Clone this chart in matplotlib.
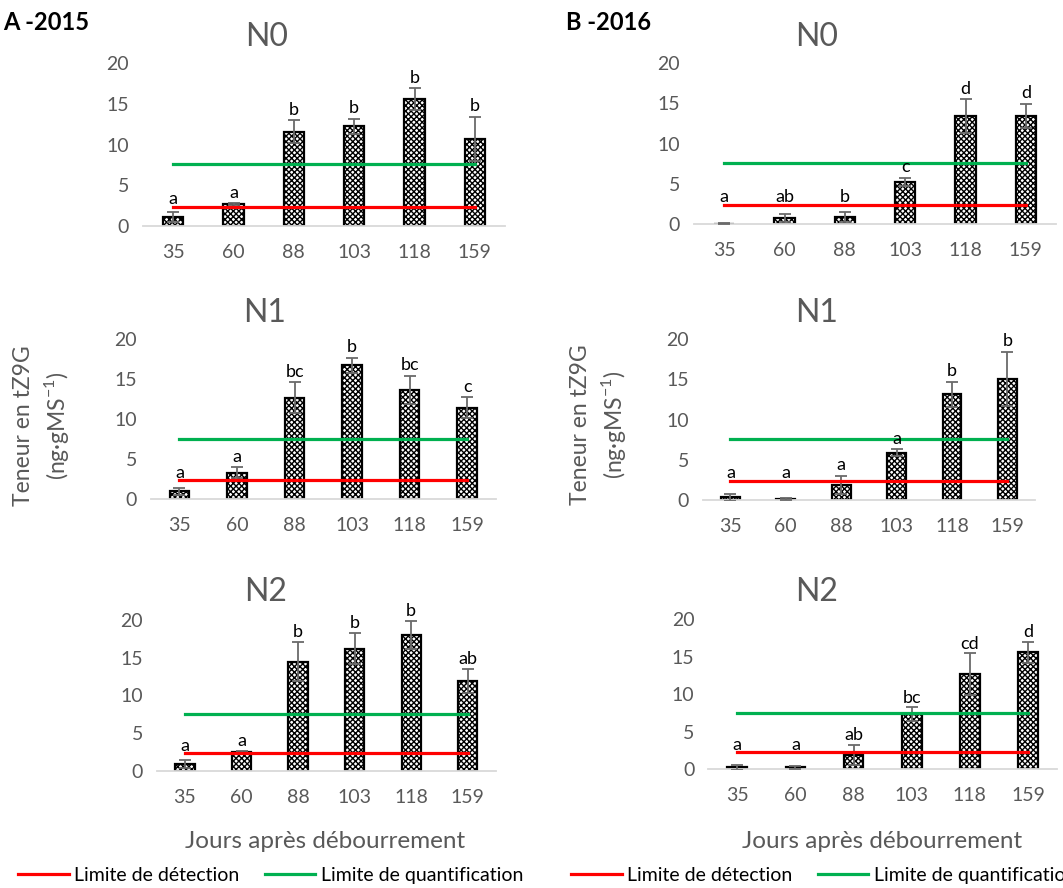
import numpy as np
import matplotlib.pyplot as plt

plt.rcParams['font.family'] = ['Lato', 'DejaVu Sans']
plt.rcParams['mathtext.fontset'] = 'custom'
plt.rcParams['mathtext.rm'] = 'Lato'
plt.rcParams['hatch.linewidth'] = 1.0

# days after budburst
days = ['35', '60', '88', '103', '118', '159']
lim_detection = 2.33
lim_quantification = 7.57

# 2015
mean_a_n0 = [1.07, 2.66, 11.6, 12.27, 15.55, 10.7]
err_a_n0 = [0.57, 0.1, 1.4, 0.93, 1.35, 2.7]
let_a_n0 = ['a', 'a', 'b', 'b', 'b', 'b']
mean_a_n1 = [0.96, 3.3, 12.7, 16.75, 13.66, 11.44]
err_a_n1 = [0.46, 0.7, 1.9, 0.95, 1.8, 1.3]
let_a_n1 = ['a', 'a', 'bc', 'b', 'bc', 'c']
mean_a_n2 = [0.89, 2.48, 14.47, 16.2, 18.0, 11.95]
err_a_n2 = [0.53, 0.12, 2.63, 2.1, 1.9, 1.6]
let_a_n2 = ['a', 'a', 'b', 'b', 'b', 'ab']

# 2016
mean_b_n0 = [0.05, 0.7, 0.9, 5.27, 13.45, 13.45]
err_b_n0 = [0.05, 0.5, 0.6, 0.5, 2.1, 1.53]
let_b_n0 = ['a', 'ab', 'b', 'c', 'd', 'd']
mean_b_n1 = [0.33, 0.12, 1.87, 5.9, 13.16, 15.06]
err_b_n1 = [0.47, 0.1, 1.16, 0.45, 1.54, 3.4]
let_b_n1 = ['a', 'a', 'a', 'a', 'b', 'b']
mean_b_n2 = [0.27, 0.25, 1.9, 7.33, 12.7, 15.6]
err_b_n2 = [0.3, 0.25, 1.34, 0.94, 2.76, 1.38]
let_b_n2 = ['a', 'a', 'ab', 'bc', 'cd', 'd']

W, H = 1063, 888
fig = plt.figure(figsize=(W / 100, H / 100), dpi=100)
gray = '#595959'


def px_axes(left, right, top, bottom):
    return fig.add_axes([left / W, 1 - bottom / H, (right - left) / W, (bottom - top) / H])


def draw_panel(ax, means, errs, letters):
    x = np.arange(len(days))
    ax.bar(x, means, width=0.34, color='white', edgecolor='black', hatch='xxxxxx',
           linewidth=1.6, zorder=2)
    ax.errorbar(x, means, yerr=errs, fmt='none', ecolor='#6a6a6a', elinewidth=1.3,
                capsize=4, capthick=1.3, zorder=3)
    red, = ax.plot([x[0], x[-1]], [lim_detection] * 2, color='#ff0000', lw=2.3, zorder=4)
    green, = ax.plot([x[0], x[-1]], [lim_quantification] * 2, color='#00b050', lw=2.3, zorder=4)
    for xi, m, e, lab in zip(x, means, errs, letters):
        ax.text(xi, max(m + e, 2.0) + 1.3, lab, ha='center', va='center',
                fontsize=13, color='black', clip_on=False, zorder=5)
    ax.set_xlim(-0.5, 5.5)
    ax.set_ylim(0, 20)
    ax.set_yticks([0, 5, 10, 15, 20])
    ax.set_xticks(x, days)
    for s in ['top', 'right', 'left']:
        ax.spines[s].set_visible(False)
    ax.spines['bottom'].set_color('#d9d9d9')
    ax.spines['bottom'].set_linewidth(1.3)
    ax.tick_params(length=0, labelsize=14, colors=gray)
    ax.tick_params(axis='x', pad=13)
    ax.tick_params(axis='y', pad=10)
    ax.patch.set_alpha(0)
    return red, green


panels = [
    ((143, 505, 63.3, 225.7), mean_a_n0, err_a_n0, let_a_n0, 'N0', (266.7, 36.7)),
    ((150.7, 496, 339.3, 499), mean_a_n1, err_a_n1, let_a_n1, 'N1', (265, 313)),
    ((156.7, 496, 620, 770.7), mean_a_n2, err_a_n2, let_a_n2, 'N2', (265.7, 591.7)),
    ((694, 1056, 63.3, 224), mean_b_n0, err_b_n0, let_b_n0, 'N0', (816.7, 36.7)),
    ((702.7, 1035, 339.3, 500), mean_b_n1, err_b_n1, let_b_n1, 'N1', (816.7, 313)),
    ((708.3, 1057, 619.3, 769.3), mean_b_n2, err_b_n2, let_b_n2, 'N2', (816.7, 591.7)),
]

handles = []
for box, means, errs, letters, title, (tx, ty) in panels:
    ax = px_axes(*box)
    handles.append(draw_panel(ax, means, errs, letters))
    fig.text(tx / W, 1 - ty / H, title, fontsize=23, color=gray, ha='center', va='center')

# year labels
fig.text(3 / W, 1 - 22 / H, 'A -2015', fontsize=17, fontweight='bold', ha='left', va='center')
fig.text(566 / W, 1 - 22 / H, 'B -2016', fontsize=17, fontweight='bold', ha='left', va='center')

# y labels
ylab = 'Teneur en tZ9G\n(ng·gMS$^{-1}$)'
fig.text(42 / W, 1 - 426 / H, ylab, rotation=90, fontsize=16.5, color=gray,
         ha='center', va='center', multialignment='center', linespacing=1.35)
fig.text(599 / W, 1 - 425 / H, ylab, rotation=90, fontsize=16.5, color=gray,
         ha='center', va='center', multialignment='center', linespacing=1.35)

# x labels
fig.text(325.5 / W, 1 - 841 / H, 'Jours après débourrement', fontsize=17.5, color=gray,
         ha='center', va='center')
fig.text(881.7 / W, 1 - 841 / H, 'Jours après débourrement', fontsize=17.5, color=gray,
         ha='center', va='center')

# legends
labels = ['Limite de détection', 'Limite de quantification']
for (red, green), lx in [(handles[2], 18), (handles[5], 571)]:
    fig.legend([red, green], labels, loc='center left', bbox_to_anchor=(lx / W, 1 - 875 / H),
               ncol=2, frameon=False, fontsize=14, handlelength=2.6, handletextpad=0.3,
               columnspacing=1.3, borderpad=0, borderaxespad=0)

fig.savefig('out.png', dpi=100)
